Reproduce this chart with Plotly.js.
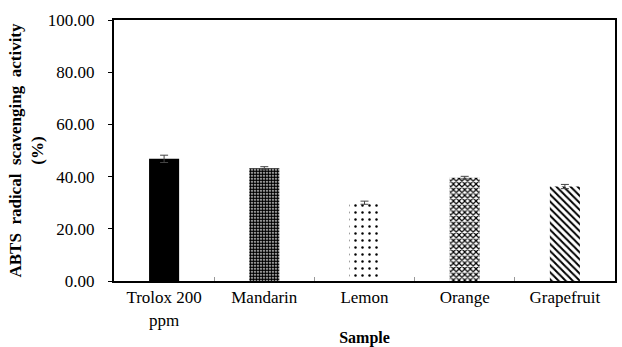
<!DOCTYPE html>
<html><head><meta charset="utf-8">
<script src="https://cdn.plot.ly/plotly-3.0.1.min.js"></script>
<style>html,body{margin:0;padding:0;background:#fff}#chart{width:622px;height:347px}</style>
</head><body><div id="chart"></div>
<script>
const categories = ["Trolox 200<br>ppm", "Mandarin", "Lemon", "Orange", "Grapefruit"];
const values = [46.8, 43.2, 30.0, 39.6, 36.2];
const errors = [1.4, 0.6, 0.6, 0.5, 0.8];
const yTicks = [0, 20, 40, 60, 80, 100];
const yTickLabels = ["0.00", "20.00", "40.00", "60.00", "80.00", "100.00"];

const fillColors = ['#000000', '#ffffff', '#ffffff', '#ffffff', '#ffffff'];
const patternShapes = ['', '.', '.', 'x', '\\'];
const patternSizes = [6, 3, 7, 4, 5];
const patternSolidity = [0.3, 0.75, 0.1, 0.5, 0.4];

const traces = categories.map((c, i) => ({
  type: 'bar',
  x: [c],
  y: [values[i]],
  error_y: {type: 'data', array: [errors[i]], visible: true, color: '#444', thickness: 1, width: 4},
  marker: {
    color: fillColors[i],
    line: {width: 0},
    pattern: {
      shape: patternShapes[i],
      fgcolor: '#000000',
      bgcolor: '#ffffff',
      size: patternSizes[i],
      solidity: patternSolidity[i]
    }
  },
  width: 0.3
}));

const fam = 'Liberation Serif';

Plotly.newPlot('chart', traces, {
  width: 622, height: 347,
  margin: {l: 114, r: 7, t: 20, b: 66},
  paper_bgcolor: '#fff', plot_bgcolor: '#fff',
  showlegend: false,
  barmode: 'overlay',
  font: {family: fam, size: 17, color: '#000'},
  xaxis: {
    showline: true, linecolor: '#000', linewidth: 2, mirror: true,
    ticks: 'inside', tickson: 'boundaries', ticklen: 4, tickcolor: '#999',
    tickfont: {family: fam, size: 17, color: '#000'},
    title: {text: '<b>Sample</b>', font: {family: fam, size: 16, color: '#000'}, standoff: 4},
    showgrid: false
  },
  yaxis: {
    range: [0, 100],
    tickvals: yTicks, ticktext: yTickLabels,
    showline: true, linecolor: '#000', linewidth: 2, mirror: true,
    ticks: 'outside', ticklen: 4, tickcolor: '#000',
    ticklabelstandoff: 10,
    tickfont: {family: fam, size: 17, color: '#000'},
    title: {text: '<b>ABTS  radical  scavenging  activity<br>(%)</b>', font: {family: fam, size: 17, color: '#000'}, standoff: 0},
    showgrid: false, zeroline: false
  }
}, {displayModeBar: false});
</script></body></html>
